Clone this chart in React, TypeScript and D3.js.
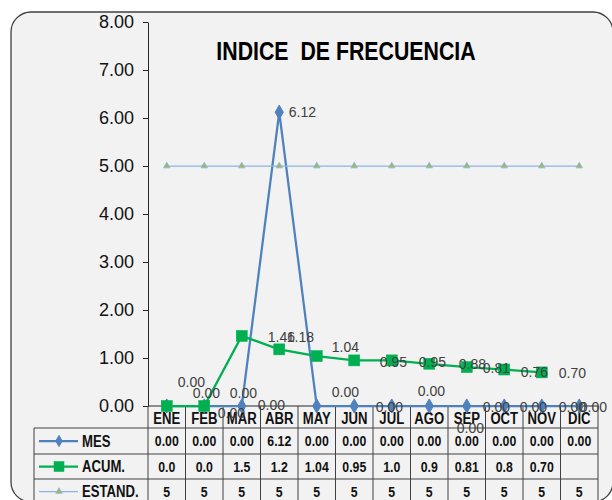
import React, { useEffect, useRef } from 'react';
import * as d3 from 'd3';

const meses = ['ENE', 'FEB', 'MAR', 'ABR', 'MAY', 'JUN', 'JUL', 'AGO', 'SEP', 'OCT', 'NOV', 'DIC'];
const mes = [0, 0, 0, 6.12, 0, 0, 0, 0, 0, 0, 0, 0];
const acum: (number | null)[] = [0, 0, 1.46, 1.18, 1.04, 0.95, 0.95, 0.88, 0.81, 0.76, 0.7, null];
const estand = [5, 5, 5, 5, 5, 5, 5, 5, 5, 5, 5, 5];
const acumTabla = ['0.0', '0.0', '1.5', '1.2', '1.04', '0.95', '1.0', '0.9', '0.81', '0.8', '0.70', ''];
const yTicks = [0, 1, 2, 3, 4, 5, 6, 7, 8];

// label nudges (px) like the hand-moved Excel labels
const mesLabelOffset = [[51, 7], [25.5, -13], [16, -1], [9.5, 0], [15, -14], [21.5, 1], [26, -15], [27.5, 22], [16, 1], [15.5, 1], [17, 1], [0.5, 1]];
const acumLabelOffset = [[11, -24], [-11.5, -13], [26, 1], [7.5, -12], [15, -9], [25.5, 2], [27, 2], [29.5, 0], [16, 1], [16.5, 2], [17, 1], [0, 0]];

const REG = "'Liberation Sans', Arial, sans-serif";
const SQUEEZE = 0.82; // no Arial Narrow installed, squeeze Arial instead

const BLUE = '#4f81bd';
const GREEN = '#00b050';
const LBLUE = '#8eb4e3';
const OLIVE = '#9bbb59';

export default function App() {
  const svgRef = useRef<SVGSVGElement>(null);

  useEffect(() => {
    if (!svgRef.current) return;
    const svg = d3.select(svgRef.current).html('');

    const x = d3.scaleBand().domain(meses).range([148, 598]).padding(0);
    const cx = (i: number) => (x(meses[i]) as number) + x.bandwidth() / 2;
    const y = d3.scaleLinear().domain([0, 8]).range([406, 22]);

    const narrow = (xx: number, yy: number, s: string, size: number, anchor = 'middle') =>
      svg.append('text').attr('transform', `translate(${xx},${yy}) scale(${SQUEEZE},1)`)
        .attr('dy', '0.36em').attr('text-anchor', anchor).attr('style', 'white-space:pre')
        .attr('font-family', REG).attr('font-weight', 'bold').attr('font-size', size).attr('fill', '#111').text(s);

    svg.append('rect').attr('x', 11).attr('y', 12).attr('width', 602).attr('height', 490)
      .attr('rx', 20).attr('fill', '#f2f2f2').attr('stroke', '#404040').attr('stroke-width', 1.3);

    narrow(346, 51, 'INDICE  DE FRECUENCIA', 26).attr('fill', '#000');

    // y axis
    const gy = svg.append('g').attr('transform', 'translate(148,0)')
      .call(d3.axisLeft(y).tickValues(yTicks).tickFormat(d3.format('.2f')).tickSizeInner(5).tickSizeOuter(0).tickPadding(9));
    gy.select('.domain').attr('stroke', '#262626');
    gy.selectAll('.tick line').attr('stroke', '#262626');
    gy.selectAll('.tick text').attr('font-family', REG).attr('font-size', 18).attr('fill', '#111');

    // table
    const rows = [406, 428, 454, 479, 504];
    const t = svg.append('g').attr('stroke', '#404040').attr('stroke-width', 1);
    t.append('line').attr('x1', 148).attr('x2', 598).attr('y1', 406).attr('y2', 406).attr('stroke', '#262626');
    rows.slice(1).forEach(r => t.append('line').attr('x1', 34).attr('x2', 598).attr('y1', r).attr('y2', r));
    t.append('line').attr('x1', 34).attr('x2', 34).attr('y1', 428).attr('y2', 504);
    meses.forEach((m, i) => {
      const xl = x(m) as number;
      t.append('line').attr('x1', xl).attr('x2', xl).attr('y1', 406).attr('y2', 504);
      if (i === meses.length - 1) t.append('line').attr('x1', xl + x.bandwidth()).attr('x2', xl + x.bandwidth()).attr('y1', 406).attr('y2', 504);
    });

    meses.forEach((m, i) => {
      narrow(cx(i), 418, m, 16);
      narrow(cx(i), 441, d3.format('.2f')(mes[i]), 15);
      narrow(cx(i), 466.5, acumTabla[i], 15);
      narrow(cx(i), 491.5, String(estand[i]), 15);
    });

    function drawMarker(g: any, kind: string, px: number, py: number, legend = false) {
      if (kind === 'diamond') {
        g.append('path').attr('d', d3.symbol(d3.symbolDiamond, legend ? 36 : 58)()).attr('transform', `translate(${px},${py})`)
          .attr('fill', BLUE).attr('stroke', BLUE);
      } else if (kind === 'square') {
        const s = legend ? 10 : 11;
        g.append('rect').attr('x', px - s / 2).attr('y', py - s / 2).attr('width', s).attr('height', s)
          .attr('fill', GREEN).attr('stroke', GREEN).attr('stroke-width', 0.5);
      } else {
        g.append('path').attr('d', d3.symbol(d3.symbolTriangle, 18)()).attr('transform', `translate(${px},${py})`)
          .attr('fill', OLIVE).attr('stroke', LBLUE).attr('stroke-width', 0.8);
      }
    }

    // legend keys
    const keys = [
      { name: 'MES', y: 441, color: BLUE, w: 2.25, marker: 'diamond' },
      { name: 'ACUM.', y: 466.5, color: GREEN, w: 2.25, marker: 'square' },
      { name: 'ESTAND.', y: 491.5, color: LBLUE, w: 1.25, marker: 'triangle' },
    ];
    keys.forEach(k => {
      svg.append('line').attr('x1', 39).attr('x2', 78).attr('y1', k.y).attr('y2', k.y).attr('stroke', k.color).attr('stroke-width', k.w);
      drawMarker(svg, k.marker, 59, k.y, true);
      narrow(82, k.y, k.name, 16, 'start');
    });

    const lineFn = d3.line<number | null>().defined(d => d !== null).x((_, i) => cx(i)).y(d => y(d as number));

    // MES
    svg.append('path').datum(mes).attr('d', lineFn).attr('fill', 'none').attr('stroke', BLUE).attr('stroke-width', 2.25);
    mes.forEach((v, i) => drawMarker(svg, 'diamond', cx(i), y(v)));

    // ACUM
    svg.append('path').datum(acum).attr('d', lineFn).attr('fill', 'none').attr('stroke', GREEN).attr('stroke-width', 2.25);
    acum.forEach((v, i) => { if (v !== null) drawMarker(svg, 'square', cx(i), y(v)); });

    // ESTAND
    svg.append('path').datum(estand).attr('d', lineFn).attr('fill', 'none').attr('stroke', LBLUE).attr('stroke-width', 1.25);
    estand.forEach((v, i) => drawMarker(svg, 'triangle', cx(i), y(v)));

    // data labels
    const label = (v: number, i: number, off: number[]) =>
      svg.append('text').attr('x', cx(i) + off[0]).attr('y', y(v) + off[1]).attr('dy', '0.36em')
        .attr('font-family', REG).attr('font-size', 14).attr('fill', '#404040').text(d3.format('.2f')(v));
    mes.forEach((v, i) => label(v, i, mesLabelOffset[i]));
    acum.forEach((v, i) => { if (v !== null) label(v, i, acumLabelOffset[i]); });
  }, []);

  return <svg ref={svgRef} width={612} height={500} style={{ position: 'absolute', left: 0, top: 0, background: '#fff' }} />;
}
